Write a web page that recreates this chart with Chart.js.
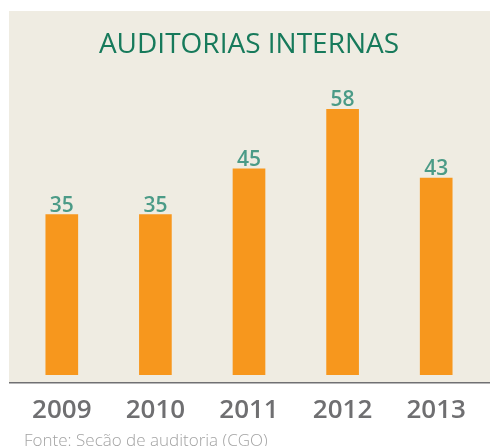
<!DOCTYPE html>
<html>
<head>
<meta charset="utf-8">
<script src="https://cdn.jsdelivr.net/npm/chart.js@4"></script>
<style>
  html, body { margin: 0; padding: 0; background: #fff; }
  #wrap { width: 490px; height: 446px; }
</style>
</head>
<body>
<div id="wrap"><canvas id="auditChart"></canvas></div>
<script>
// Dados do gráfico
const anos = ['2009', '2010', '2011', '2012', '2013'];
const auditorias = [35, 35, 45, 58, 43];
const titulo = 'AUDITORIAS INTERNAS';
const fonte = 'Fonte: Seção de auditoria (CGO)';

// Fundo bege, linha base, rótulos de valor e fonte
const decoracao = {
    id: 'decoracao',
    beforeDraw(chart) {
        const ctx = chart.ctx;
        const area = chart.chartArea;
        ctx.save();
        ctx.fillStyle = '#efece2';
        ctx.fillRect(9, 11, chart.width - 9, area.bottom - 11);
        ctx.restore();
    },
    afterDatasetsDraw(chart) {
        const ctx = chart.ctx;
        const area = chart.chartArea;
        ctx.save();
        // linha base
        ctx.strokeStyle = '#707072';
        ctx.lineWidth = 1.5;
        ctx.beginPath();
        ctx.moveTo(9, area.bottom);
        ctx.lineTo(chart.width, area.bottom);
        ctx.stroke();

        // valores acima das barras
        ctx.fillStyle = '#4b9b87';
        ctx.font = '600 21px "Open Sans"';
        ctx.textAlign = 'center';
        ctx.textBaseline = 'alphabetic';
        chart.getDatasetMeta(0).data.forEach((bar, i) => {
            ctx.fillText(auditorias[i], bar.x, bar.y - 3);
        });

        // fonte
        ctx.fillStyle = '#a3a3a3';
        ctx.font = '300 17px "Open Sans"';
        ctx.textAlign = 'left';
        ctx.fillText(fonte, 24, 446);
        ctx.restore();
    }
};

new Chart(document.getElementById('auditChart'), {
    type: 'bar',
    data: {
        labels: anos,
        datasets: [{
            data: auditorias,
            backgroundColor: '#f7971d',
            borderWidth: 0,
            barThickness: 32
        }]
    },
    options: {
        responsive: true,
        maintainAspectRatio: false,
        animation: false,
        layout: {
            padding: { left: 15, right: 7, top: 0, bottom: 8 }
        },
        plugins: {
            legend: { display: false },
            tooltip: { enabled: false },
            title: {
                display: true,
                text: titulo,
                color: '#177a5b',
                font: { family: 'Open Sans', size: 28, weight: '400' },
                padding: { top: 28, bottom: 40 }
            }
        },
        scales: {
            x: {
                grid: { display: false, drawTicks: false },
                border: { display: false },
                ticks: {
                    color: '#6f6f71',
                    padding: 12,
                    font: { family: 'Open Sans', size: 26, weight: '600' }
                }
            },
            y: {
                display: false,
                min: -1.75,
                max: 59.7
            }
        }
    },
    plugins: [decoracao]
});
</script>
</body>
</html>
